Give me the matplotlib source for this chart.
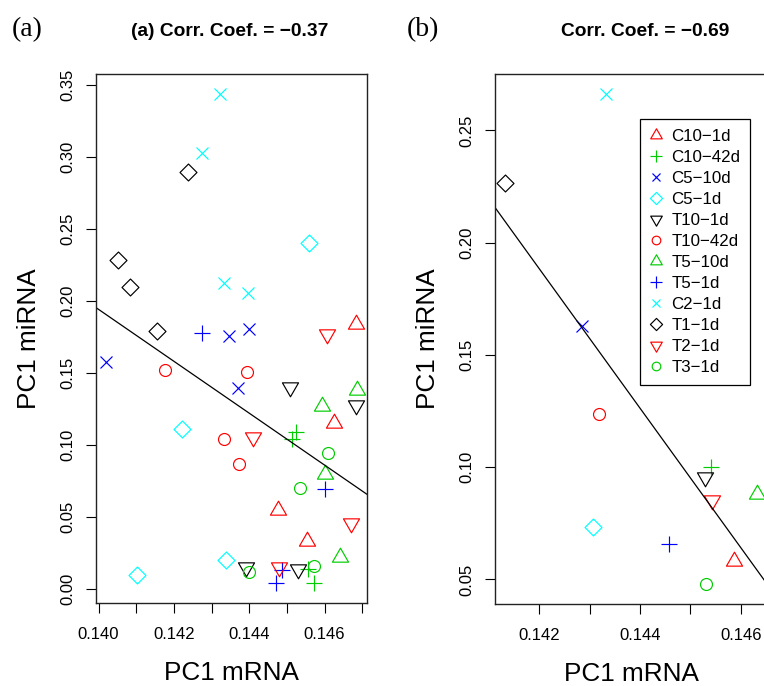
import numpy as np
import matplotlib
matplotlib.use("Agg")
import matplotlib.pyplot as plt
from matplotlib.path import Path

plt.rcParams['font.family'] = ['Liberation Sans', 'DejaVu Sans']

# ---------------- data ----------------
groups = ["C10\u22121d", "C10\u221242d", "C5\u221210d", "C5\u22121d", "T10\u22121d", "T10\u221242d",
          "T5\u221210d", "T5\u22121d", "C2\u22121d", "T1\u22121d", "T2\u22121d", "T3\u22121d"]
colors = ["#FF0000", "#00CD00", "#0000FF", "#00FFFF", "#000000", "#FF0000",
          "#00CD00", "#0000FF", "#00FFFF", "#000000", "#FF0000", "#00CD00"]
pch = ["tri_up", "plus", "cross", "diamond", "tri_down", "circle",
       "tri_up", "plus", "cross", "diamond", "tri_down", "circle"]

# panel (a): PC1 mRNA (x) vs PC1 miRNA (y), four samples per group
a_x = {
    "C10\u22121d":  [0.14684, 0.14626, 0.14477, 0.14554],
    "C10\u221242d": [0.14514, 0.14523, 0.14557, 0.14573],
    "C5\u221210d":  [0.14346, 0.14399, 0.14020, 0.14369],
    "C5\u22121d":   [0.14560, 0.14221, 0.14103, 0.14338],
    "T10\u22121d":  [0.14508, 0.14684, 0.14391, 0.14529],
    "T10\u221242d": [0.14176, 0.14394, 0.14333, 0.14374],
    "T5\u221210d":  [0.14594, 0.14686, 0.14600, 0.14641],
    "T5\u22121d":   [0.14274, 0.14602, 0.14470, 0.14488],
    "C2\u22121d":   [0.14322, 0.14276, 0.14334, 0.14397],
    "T1\u22121d":   [0.14237, 0.14053, 0.14084, 0.14154],
    "T2\u22121d":   [0.14410, 0.14607, 0.14671, 0.14478],
    "T3\u22121d":   [0.14610, 0.14534, 0.14399, 0.14571],
}
a_y = {
    "C10\u22121d":  [0.1840, 0.1155, 0.0549, 0.0337],
    "C10\u221242d": [0.1044, 0.1095, 0.0140, 0.0041],
    "C5\u221210d":  [0.1759, 0.1805, 0.1579, 0.1395],
    "C5\u22121d":   [0.2407, 0.1116, 0.0102, 0.0201],
    "T10\u22121d":  [0.1406, 0.1279, 0.0156, 0.0138],
    "T10\u221242d": [0.1521, 0.1510, 0.1046, 0.0869],
    "T5\u221210d":  [0.1275, 0.1381, 0.0798, 0.0221],
    "T5\u22121d":   [0.1779, 0.0694, 0.0041, 0.0131],
    "C2\u22121d":   [0.3442, 0.3031, 0.2130, 0.2059],
    "T1\u22121d":   [0.2896, 0.2284, 0.2098, 0.1793],
    "T2\u22121d":   [0.1056, 0.1775, 0.0461, 0.0156],
    "T3\u22121d":   [0.0945, 0.0703, 0.0118, 0.0164],
}

# panel (b): one value per group
b_x = [0.14586, 0.14540, 0.14284, 0.14306, 0.14529, 0.14319,
       0.14632, 0.14458, 0.14333, 0.14132, 0.14543, 0.14530]
b_y = [0.0580, 0.1001, 0.1628, 0.0732, 0.0957, 0.1235,
       0.0880, 0.0656, 0.2664, 0.2266, 0.0856, 0.0478]

title_a = "(a) Corr. Coef. = \u22120.37"
title_b = "Corr. Coef. = \u22120.69"
xlabel = "PC1 mRNA"
ylabel = "PC1 miRNA"

a_xticks = [0.140, 0.141, 0.142, 0.143, 0.144, 0.145, 0.146, 0.147]
a_xticklabels = ["0.140", "", "0.142", "", "0.144", "", "0.146", ""]
a_yticks = [0.00, 0.05, 0.10, 0.15, 0.20, 0.25, 0.30, 0.35]
b_xticks = [0.142, 0.143, 0.144, 0.145, 0.146]
b_xticklabels = ["0.142", "", "0.144", "", "0.146"]
b_yticks = [0.05, 0.10, 0.15, 0.20, 0.25]

# ---------------- marker shapes (R-like) ----------------
s3 = np.sqrt(3) / 2
tri_up = Path([(0, 1), (s3, -0.5), (-s3, -0.5), (0, 1)], closed=True)
tri_down = Path([(0, -1), (s3, 0.5), (-s3, 0.5), (0, -1)], closed=True)
diamond = Path([(0, 1), (1, 0), (0, -1), (-1, 0), (0, 1)], closed=True)
marker_map = {
    "tri_up": (tri_up, 13.4),
    "tri_down": (tri_down, 13.4),
    "diamond": (diamond, 12.2),
    "plus": ("+", 12.2),
    "cross": ("x", 8.6),
    "circle": ("o", 8.6),
}
MEW = 0.85

W, H = 764, 686
fig = plt.figure(figsize=(W / 100, H / 100), dpi=100)

def px_axes(l, t, r, b):
    return [l / W, 1 - b / H, (r - l) / W, (b - t) / H]

axA = fig.add_axes(px_axes(96, 74, 367, 603))
axB = fig.add_axes(px_axes(495, 74, 767, 604))

def r_lim(v):
    v = np.asarray(v)
    lo, hi = v.min(), v.max()
    pad = 0.04 * (hi - lo)
    return lo - pad, hi + pad

def style_axes(ax, xticks, xticklabels, yticks):
    ax.set_xticks(xticks)
    ax.set_xticklabels(xticklabels)
    ax.set_yticks(yticks)
    ax.set_yticklabels(["%.2f" % t for t in yticks])
    ax.tick_params(direction='out', length=7.2, width=0.8, colors='black',
                   labelsize=12)
    ax.tick_params(axis='x', pad=10.0)
    ax.tick_params(axis='y', pad=7.5)
    for lab in ax.get_yticklabels():
        lab.set_rotation(90)
        lab.set_va('center')
        lab.set_ha('right')
    for sp in ax.spines.values():
        sp.set_linewidth(1.0)
        sp.set_color('#222222')
    ax.set_xlabel(xlabel, fontsize=18.8, labelpad=14)
    ax.set_ylabel(ylabel, fontsize=18.8, labelpad=14)

# panel (a)
allx, ally = [], []
for g, c, p in zip(groups, colors, pch):
    mk, ms = marker_map[p]
    ax_ = a_x[g]; ay_ = a_y[g]
    allx += ax_; ally += ay_
    axA.plot(ax_, ay_, linestyle='none', marker=mk, ms=ms, mfc='none',
             mec=c, mew=MEW)
allx = np.array(allx); ally = np.array(ally)
axA.set_xlim(*r_lim(allx))
axA.set_ylim(*r_lim(ally))
m, b0 = np.polyfit(allx, ally, 1)
axA.axline((0.142, m * 0.142 + b0), slope=m, color='black', lw=0.9)
style_axes(axA, a_xticks, a_xticklabels, a_yticks)

# panel (b)
handles = []
for i, (g, c, p) in enumerate(zip(groups, colors, pch)):
    mk, ms = marker_map[p]
    h, = axB.plot([b_x[i]], [b_y[i]], linestyle='none', marker=mk, ms=ms,
                  mfc='none', mec=c, mew=MEW, label=g)
    handles.append(h)
axB.set_xlim(*r_lim(b_x))
axB.set_ylim(*r_lim(b_y))
m2, b2 = np.polyfit(b_x, b_y, 1)
axB.axline((0.144, m2 * 0.144 + b2), slope=m2, color='black', lw=0.9)
style_axes(axB, b_xticks, b_xticklabels, b_yticks)

leg = axB.legend(handles=handles, loc='upper left',
                 bbox_to_anchor=(640 / W, 1 - 118.7 / H),
                 bbox_transform=fig.transFigure, borderaxespad=0,
                 fontsize=12.2, markerscale=0.72, numpoints=1,
                 handlelength=0.7, handletextpad=0.54, labelspacing=0.355,
                 borderpad=0.6, fancybox=False, framealpha=1,
                 edgecolor='black')
leg.get_frame().set_linewidth(0.9)

# titles and panel letters
fig.text(230 / W, 1 - 32 / H, title_a, ha='center', va='center',
         fontsize=13.8, fontweight='bold')
fig.text(645.6 / W, 1 - 32 / H, title_b, ha='center', va='center',
         fontsize=13.8, fontweight='bold')
fig.text(12 / W, 1 - 30 / H, "(a)", ha='left', va='center',
         fontsize=20, family=['Liberation Serif', 'DejaVu Serif'])
fig.text(407 / W, 1 - 30 / H, "(b)", ha='left', va='center',
         fontsize=20, family=['Liberation Serif', 'DejaVu Serif'])

fig.savefig("out.png", dpi=100)
